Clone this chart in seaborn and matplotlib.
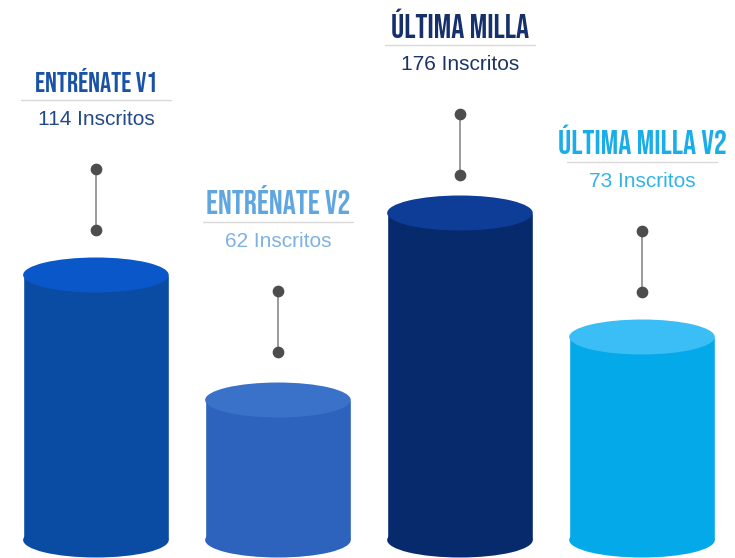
import matplotlib
matplotlib.use("Agg")
import matplotlib.pyplot as plt
from matplotlib.patches import Ellipse
from matplotlib import font_manager
import seaborn as sns
import pandas as pd

# ---- data ----
programas = ["ENTRÉNATE V1", "ENTRÉNATE V2", "ÚLTIMA MILLA", "ÚLTIMA MILLA V2"]
inscritos = [114, 62, 176, 73]
# visual cylinder heights as drawn in the infographic (not proportional to values)
alturas = [265, 140, 327, 203]

body_colors = ["#0A4BA3", "#2D63BD", "#062A6B", "#03A9E8"]
top_colors = ["#0A57CA", "#3A72C9", "#0D3D97", "#3ABEF5"]
title_colors = ["#1A53A6", "#62A6E0", "#15306D", "#1AADE7"]
sub_colors = ["#23498A", "#7EB2E2", "#1B3468", "#30B4E8"]
title_sizes = [20, 23.5, 23.5, 23.5]
gaps = [28, 31, 21, 28]

sns.set_theme(style="white")

names = {f.name for f in font_manager.fontManager.ttflist}
title_font = "Bebas Neue" if "Bebas Neue" in names else "DejaVu Sans"
body_font = "Liberation Sans" if "Liberation Sans" in names else "DejaVu Sans"

fig = plt.figure(figsize=(7.35, 5.58), dpi=100)
ax = fig.add_axes([0, 0, 1, 1])

df = pd.DataFrame({"programa": programas, "altura": alturas})
sns.barplot(data=df, x="programa", y="altura", hue="programa",
            palette=body_colors, saturation=1, width=0.8, legend=False, ax=ax)

ax.set_xlim(-0.527, 3.511)
ax.set_ylim(-18, 540)
ax.axis("off")

ell_h = 35
for i, p in enumerate(ax.patches[:4]):
    cx = p.get_x() + p.get_width() / 2
    w = p.get_width()
    h = p.get_height()
    ax.add_patch(Ellipse((cx, 0), w, ell_h, facecolor=body_colors[i],
                         edgecolor="none", zorder=p.get_zorder()))
    ax.add_patch(Ellipse((cx, h), w, ell_h, facecolor=top_colors[i],
                         edgecolor="none", zorder=p.get_zorder() + 0.1))
    top_edge = h + ell_h / 2
    d_low = top_edge + gaps[i]
    d_up = d_low + 61
    ax.plot([cx, cx], [d_low, d_up], color="#8a8a8a", lw=1.2, zorder=5)
    ax.scatter([cx, cx], [d_low, d_up], s=55, color="#4d4d4d", zorder=6)
    ax.text(cx, d_up + 49, f"{inscritos[i]} Inscritos", ha="center", va="center",
            fontsize=15, color=sub_colors[i], family=body_font)
    ax.plot([cx - 0.41, cx + 0.41], [d_up + 69, d_up + 69], color="#d9d9d9",
            lw=1.0, zorder=4)
    ax.text(cx, d_up + 76, programas[i], ha="center", va="baseline",
            fontsize=title_sizes[i], color=title_colors[i], family=title_font)

fig.savefig("out.png", dpi=100, facecolor="white")
